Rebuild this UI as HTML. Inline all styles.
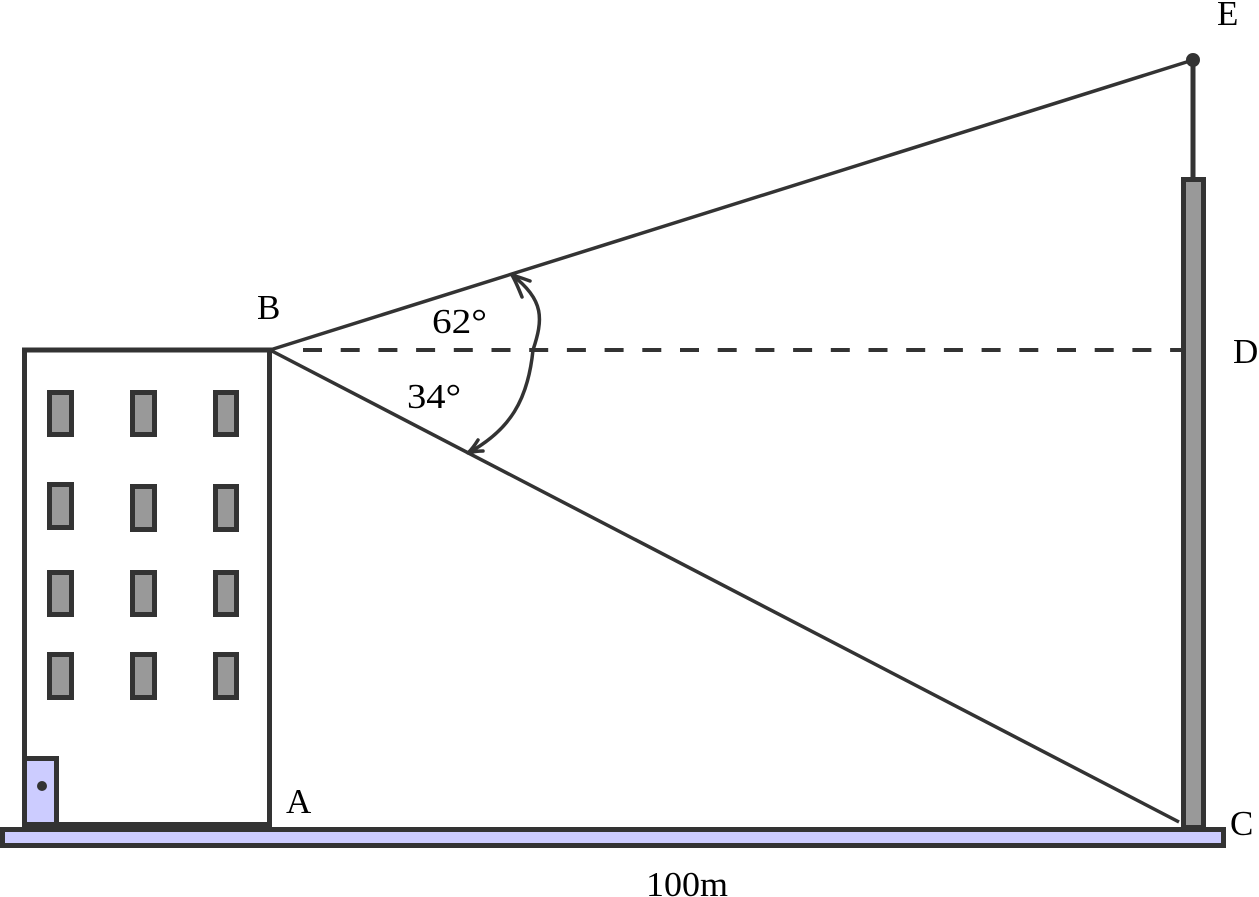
<!DOCTYPE html>
<html>
<head>
<meta charset="utf-8">
<style>
  html, body { margin: 0; padding: 0; background: #ffffff; }
  svg { display: block; }
  text { font-family: "Liberation Serif", "DejaVu Serif", serif; fill: #000; }
</style>
</head>
<body>
<svg width="1259" height="897" viewBox="0 0 1259 897" xmlns="http://www.w3.org/2000/svg">
  <rect x="0" y="0" width="1259" height="897" fill="#ffffff"/>

  <!-- Ground -->
  <rect x="2.5" y="829.5" width="1221" height="16" fill="#ccccff" stroke="#333333" stroke-width="5"/>

  <!-- Building -->
  <rect x="24.5" y="350" width="245" height="474.5" fill="#ffffff" stroke="#333333" stroke-width="5"/>

  <!-- Windows -->
  <g fill="#999999" stroke="#333333" stroke-width="5">
    <rect x="49.5" y="392.5" width="22" height="42"/>
    <rect x="132.5" y="392.5" width="22" height="42"/>
    <rect x="215.5" y="392.5" width="21" height="42"/>

    <rect x="49.5" y="484.5" width="22" height="43"/>
    <rect x="132.5" y="486.5" width="22" height="43"/>
    <rect x="215.5" y="486.5" width="21" height="43"/>

    <rect x="49.5" y="572.5" width="22" height="42"/>
    <rect x="132.5" y="572.5" width="22" height="42"/>
    <rect x="215.5" y="572.5" width="21" height="42"/>

    <rect x="49.5" y="654.5" width="22" height="43"/>
    <rect x="132.5" y="654.5" width="22" height="43"/>
    <rect x="215.5" y="654.5" width="21" height="43"/>
  </g>

  <!-- Door -->
  <rect x="24.5" y="758.5" width="32" height="66" fill="#ccccff" stroke="#333333" stroke-width="5"/>
  <circle cx="42" cy="786" r="5" fill="#333333"/>

  <!-- Pole -->
  <rect x="1183.5" y="179.5" width="20" height="648" fill="#999999" stroke="#333333" stroke-width="5"/>
  <line x1="1193" y1="60" x2="1193" y2="178" stroke="#333333" stroke-width="5"/>
  <circle cx="1193" cy="60" r="7" fill="#333333"/>

  <!-- Sight lines -->
  <line x1="270" y1="350" x2="1193" y2="60" stroke="#333333" stroke-width="3.5"/>
  <line x1="270" y1="350" x2="1179" y2="822" stroke="#333333" stroke-width="3.5"/>
  <line x1="303" y1="350" x2="1182" y2="350" stroke="#333333" stroke-width="4" stroke-dasharray="19 18.7"/>

  <!-- Angle arc -->
  <path d="M533,350 C543,320 545,300 512,275" fill="none" stroke="#333333" stroke-width="3.5"/>
  <path d="M533,350 C528,400 510,430 468,453" fill="none" stroke="#333333" stroke-width="3.5"/>
  <!-- Arrowheads -->
  <path d="M530,281 Q519,277 512,275 Q516,282 522,297" fill="none" stroke="#333333" stroke-width="3.5" stroke-linecap="round" stroke-linejoin="round"/>
  <path d="M478,440 Q473,448 468,453 Q475,451 483,451" fill="none" stroke="#333333" stroke-width="3.5" stroke-linecap="round" stroke-linejoin="round"/>

  <!-- Labels -->
  <text x="257" y="319" font-size="35">B</text>
  <text x="286" y="813" font-size="35">A</text>
  <text x="1217" y="25" font-size="35">E</text>
  <text x="1230" y="835" font-size="35">C</text>
  <text x="1233" y="363" font-size="35">D</text>
  <text x="432" y="333" font-size="35" textLength="55" lengthAdjust="spacingAndGlyphs">62°</text>
  <text x="407" y="408" font-size="35" textLength="54" lengthAdjust="spacingAndGlyphs">34°</text>
  <text x="646" y="896" font-size="35" textLength="82" lengthAdjust="spacingAndGlyphs">100m</text>
</svg>
</body>
</html>
